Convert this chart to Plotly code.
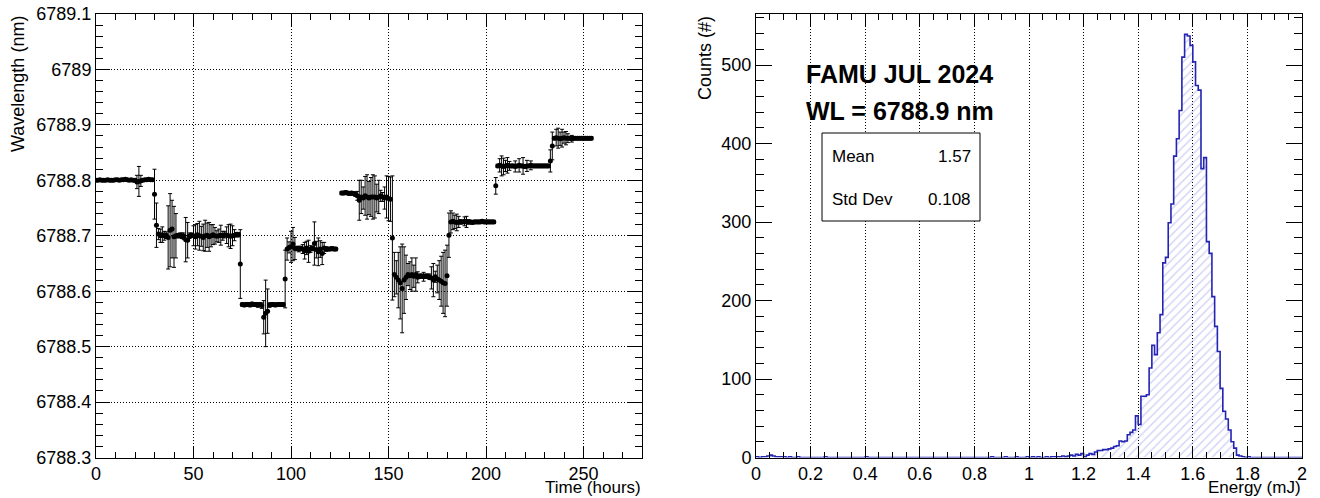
import plotly.graph_objects as go

# ---------------- Left panel: wavelength vs time ----------------
time_h = list(range(0, 124)) + list(range(126, 255))

wavelength_nm = [
    # t 0-29
    6788.800, 6788.800, 6788.801, 6788.800, 6788.800, 6788.800, 6788.801, 6788.800, 6788.800, 6788.800,
    6788.801, 6788.801, 6788.800, 6788.801, 6788.801, 6788.802, 6788.801, 6788.800, 6788.801, 6788.800,
    6788.800, 6788.797, 6788.798, 6788.799, 6788.800, 6788.801, 6788.801, 6788.802, 6788.801, 6788.801,
    # t 30-49
    6788.775, 6788.719, 6788.703, 6788.700, 6788.702, 6788.700, 6788.701, 6788.697, 6788.710, 6788.712,
    6788.698, 6788.700, 6788.700, 6788.701, 6788.700, 6788.699, 6788.693, 6788.692, 6788.700, 6788.701,
    # t 50-73
    6788.700, 6788.698, 6788.702, 6788.700, 6788.699, 6788.697, 6788.700, 6788.701, 6788.698, 6788.700,
    6788.702, 6788.700, 6788.699, 6788.700, 6788.701, 6788.700, 6788.702, 6788.701, 6788.700, 6788.699,
    6788.700, 6788.701, 6788.702, 6788.702,
    # t 74-97
    6788.649, 6788.576, 6788.575, 6788.576, 6788.576, 6788.575, 6788.577, 6788.576, 6788.576, 6788.575,
    6788.576, 6788.574, 6788.553, 6788.560, 6788.564, 6788.575, 6788.576, 6788.576, 6788.575, 6788.576,
    6788.576, 6788.576, 6788.576, 6788.622,
    # t 98-123
    6788.676, 6788.679, 6788.680, 6788.685, 6788.677, 6788.677, 6788.676, 6788.677, 6788.676, 6788.673,
    6788.678, 6788.672, 6788.676, 6788.677, 6788.686, 6788.675, 6788.671, 6788.676, 6788.668, 6788.678,
    6788.676, 6788.676, 6788.676, 6788.677, 6788.676, 6788.676,
    # t 126-152
    6788.777, 6788.777, 6788.778, 6788.777, 6788.776, 6788.777, 6788.776, 6788.775, 6788.772, 6788.764,
    6788.770, 6788.768, 6788.772, 6788.770, 6788.768, 6788.770, 6788.770, 6788.770, 6788.768, 6788.770,
    6788.772, 6788.770, 6788.768, 6788.770, 6788.767, 6788.766, 6788.696,
    # t 153-181
    6788.630, 6788.625, 6788.620, 6788.615, 6788.605, 6788.620, 6788.625, 6788.630, 6788.628, 6788.630,
    6788.627, 6788.630, 6788.625, 6788.627, 6788.627, 6788.626, 6788.627, 6788.627, 6788.626, 6788.624,
    6788.620, 6788.626, 6788.622, 6788.620, 6788.618, 6788.615, 6788.614, 6788.628, 6788.701,
    # t 182-205
    6788.725, 6788.726, 6788.725, 6788.724, 6788.725, 6788.725, 6788.725, 6788.726, 6788.725, 6788.725,
    6788.725, 6788.724, 6788.725, 6788.725, 6788.725, 6788.725, 6788.726, 6788.725, 6788.725, 6788.725,
    6788.725, 6788.725, 6788.725, 6788.790,
    # t 206-234
    6788.826, 6788.827, 6788.826, 6788.825, 6788.826, 6788.827, 6788.826, 6788.826, 6788.826, 6788.825,
    6788.826, 6788.827, 6788.826, 6788.826, 6788.825, 6788.826, 6788.826, 6788.827, 6788.826, 6788.826,
    6788.826, 6788.826, 6788.826, 6788.826, 6788.826, 6788.826, 6788.826, 6788.835, 6788.862,
    # t 235-254
    6788.876, 6788.877, 6788.876, 6788.875, 6788.876, 6788.877, 6788.876, 6788.876, 6788.876, 6788.875,
    6788.876, 6788.876, 6788.876, 6788.876, 6788.876, 6788.876, 6788.876, 6788.876, 6788.876, 6788.876,
]

wavelength_err = [
    # t 0-29
    0.002, 0.002, 0.002, 0.002, 0.002, 0.002, 0.002, 0.002, 0.002, 0.002,
    0.002, 0.002, 0.002, 0.002, 0.002, 0.002, 0.002, 0.002, 0.002, 0.002,
    0.003, 0.012, 0.027, 0.010, 0.002, 0.002, 0.002, 0.002, 0.002, 0.002,
    # t 30-49
    0.045, 0.040, 0.010, 0.012, 0.014, 0.008, 0.006, 0.057, 0.066, 0.052,
    0.055, 0.040, 0.004, 0.004, 0.005, 0.006, 0.040, 0.032, 0.005, 0.004,
    # t 50-73
    0.018, 0.022, 0.020, 0.026, 0.018, 0.024, 0.028, 0.022, 0.026, 0.020,
    0.018, 0.015, 0.010, 0.012, 0.018, 0.008, 0.006, 0.015, 0.020, 0.022,
    0.018, 0.010, 0.004, 0.004,
    # t 74-97
    0.062, 0.003, 0.003, 0.003, 0.003, 0.003, 0.003, 0.003, 0.003, 0.004,
    0.003, 0.005, 0.030, 0.060, 0.040, 0.004, 0.003, 0.003, 0.003, 0.003,
    0.003, 0.003, 0.003, 0.052,
    # t 98-123
    0.020, 0.010, 0.028, 0.030, 0.020, 0.004, 0.005, 0.004, 0.008, 0.015,
    0.012, 0.020, 0.006, 0.004, 0.039, 0.015, 0.025, 0.015, 0.020, 0.010,
    0.004, 0.003, 0.003, 0.003, 0.003, 0.003,
    # t 126-152
    0.003, 0.003, 0.003, 0.003, 0.003, 0.003, 0.003, 0.004, 0.008, 0.036,
    0.030, 0.020, 0.035, 0.040, 0.030, 0.035, 0.040, 0.038, 0.025, 0.030,
    0.010, 0.008, 0.020, 0.038, 0.040, 0.040, 0.112,
    # t 153-181
    0.040, 0.030, 0.050, 0.065, 0.080, 0.060, 0.040, 0.020, 0.025, 0.030,
    0.020, 0.030, 0.010, 0.004, 0.004, 0.008, 0.004, 0.004, 0.005, 0.020,
    0.030, 0.010, 0.025, 0.035, 0.045, 0.055, 0.060, 0.055, 0.040,
    # t 182-205
    0.020, 0.015, 0.012, 0.015, 0.010, 0.004, 0.003, 0.008, 0.010, 0.004,
    0.003, 0.003, 0.003, 0.003, 0.003, 0.003, 0.003, 0.003, 0.003, 0.003,
    0.003, 0.003, 0.003, 0.015,
    # t 206-234
    0.003, 0.012, 0.018, 0.015, 0.010, 0.014, 0.008, 0.003, 0.003, 0.010,
    0.003, 0.012, 0.003, 0.015, 0.003, 0.010, 0.003, 0.008, 0.003, 0.003,
    0.003, 0.003, 0.003, 0.003, 0.003, 0.003, 0.003, 0.020, 0.025,
    # t 235-254
    0.003, 0.015, 0.018, 0.012, 0.016, 0.010, 0.012, 0.008, 0.003, 0.006,
    0.003, 0.003, 0.003, 0.003, 0.003, 0.003, 0.003, 0.003, 0.003, 0.003,
]

# ---------------- Right panel: energy histogram ----------------
bin_width = 0.01
energy_counts = [
    # 0.00-0.99
    1, 0, 1, 1, 2, 3, 2, 1, 1, 1,
    1, 0, 1, 0, 0, 1, 0, 0, 0, 0,
    0, 0, 0, 0, 0, 1, 0, 0, 0, 0,
    0, 0, 0, 0, 0, 0, 0, 0, 0, 0,
    1, 0, 0, 0, 0, 0, 0, 0, 0, 0,
    0, 0, 0, 0, 0, 0, 0, 0, 0, 0,
    0, 0, 0, 0, 0, 0, 0, 0, 0, 0,
    0, 0, 0, 0, 0, 0, 0, 0, 0, 0,
    0, 0, 0, 0, 0, 0, 1, 0, 0, 0,
    0, 1, 0, 0, 0, 1, 0, 0, 0, 1,
    # 1.00-1.99
    0, 1, 0, 1, 0, 0, 1, 0, 1, 1,
    1, 1, 2, 1, 2, 3, 2, 4, 3, 5,
    1, 3, 5, 4, 7, 9, 9, 10, 10, 11,
    12, 14, 15, 21, 20, 21, 29, 32, 35, 53,
    42, 78, 78, 80, 114, 143, 131, 159, 182, 248,
    255, 299, 323, 384, 406, 442, 510, 539, 537, 525,
    504, 474, 468, 368, 382, 275, 260, 205, 167, 135,
    88, 59, 49, 35, 20, 12, 3, 2, 1, 0,
    1, 0, 0, 0, 0, 0, 0, 0, 0, 0,
    0, 0, 0, 0, 0, 0, 0, 0, 0, 0,
]
bin_edges = [round(i * bin_width, 2) for i in range(len(energy_counts) + 1)]
step_y = energy_counts + [energy_counts[-1]]

stats_labels = ["Mean", "Std Dev"]
stats_values = ["1.57", "0.108"]
title_lines = ["FAMU JUL 2024", "WL = 6788.9 nm"]

# ---------------- geometry helpers (pixels -> paper) ----------------
W, H = 1320, 498
def px(x):
    return x / W
def py(y):
    return 1 - y / H

FONT = "Liberation Sans, Arial, Helvetica, sans-serif"

fig = go.Figure()

fig.add_trace(go.Scatter(
    x=time_h, y=wavelength_nm, mode="markers",
    marker=dict(color="black", size=5),
    error_y=dict(type="data", array=wavelength_err, color="black", thickness=1, width=2),
    xaxis="x", yaxis="y", showlegend=False, hoverinfo="skip",
))

fig.add_trace(go.Scatter(
    x=bin_edges, y=step_y, mode="lines", line=dict(color="rgb(35,35,180)", width=1.6, shape="hv"),
    fill="tozeroy", fillcolor="rgba(255,255,255,0)",
    fillpattern=dict(shape="/", fgcolor="rgb(160,160,235)", bgcolor="rgba(255,255,255,0)", size=6, solidity=0.22),
    xaxis="x2", yaxis="y2", showlegend=False, hoverinfo="skip",
))

common_axis = dict(
    showline=True, linecolor="black", linewidth=1, mirror="allticks",
    ticks="inside", tickcolor="black", tickwidth=1,
    tickfont=dict(family=FONT, size=18, color="black"),
    zeroline=False, tickmode="linear", ticklabelstandoff=0, automargin=False,
)
grid = dict(showgrid=True, gridcolor="black", griddash="1px,2px", gridwidth=1)

ydom = [py(457.5), py(14)]

fig.update_layout(
    width=W, height=H,
    margin=dict(l=0, r=0, t=0, b=0, autoexpand=False),
    paper_bgcolor="white", plot_bgcolor="white",
    font=dict(family=FONT, color="black"),
    showlegend=False,
    xaxis=dict(domain=[px(96), px(642)], range=[0, 280], anchor="y",
               tick0=0, dtick=50, ticklen=12,
               minor=dict(dtick=10, tick0=0, ticks="inside", ticklen=6, tickcolor="black", showgrid=False),
               **grid, **common_axis),
    yaxis=dict(domain=ydom, range=[6788.3, 6789.1], anchor="x",
               tick0=6788.3, dtick=0.1, ticklen=14, tickformat=".5~g",
               minor=dict(dtick=0.02, tick0=6788.3, ticks="inside", ticklen=7, tickcolor="black", showgrid=False),
               **grid, **common_axis),
    xaxis2=dict(domain=[px(756), px(1302)], range=[0, 2], anchor="y2",
                tick0=0, dtick=0.2, ticklen=12,
                minor=dict(dtick=0.05, tick0=0, ticks="inside", ticklen=6, tickcolor="black", showgrid=False),
                **grid, **common_axis),
    yaxis2=dict(domain=ydom, range=[0, 565], anchor="x2",
                tick0=0, dtick=100, ticklen=16,
                minor=dict(dtick=20, tick0=0, ticks="inside", ticklen=8, tickcolor="black", showgrid=False),
                showgrid=False, **common_axis),
)

ann = []
ann.append(dict(text="Wavelength (nm)", x=px(18), y=py(14), xref="paper", yref="paper",
                xanchor="center", yanchor="top", textangle=-90, showarrow=False,
                font=dict(family=FONT, size=18, color="black")))
ann.append(dict(text="Counts (#)", x=px(705), y=py(14), xref="paper", yref="paper",
                xanchor="center", yanchor="top", textangle=-90, showarrow=False,
                font=dict(family=FONT, size=18, color="black")))
ann.append(dict(text="Time (hours)", x=px(643), y=py(487), xref="paper", yref="paper",
                xanchor="right", yanchor="middle", showarrow=False,
                font=dict(family=FONT, size=17, color="black")))
ann.append(dict(text="Energy (mJ)", x=px(1303), y=py(487), xref="paper", yref="paper",
                xanchor="right", yanchor="middle", showarrow=False,
                font=dict(family=FONT, size=17, color="black")))
for i, line in enumerate(title_lines):
    ann.append(dict(text="<b>" + line + "</b>", x=px(804), y=py(74 + 37 * i), xref="paper", yref="paper",
                    xanchor="left", yanchor="middle", showarrow=False,
                    font=dict(family=FONT, size=25, color="black")))
for i, (lab, val) in enumerate(zip(stats_labels, stats_values)):
    yy = py(157 + 42 * i)
    ann.append(dict(text=lab, x=px(830), y=yy, xref="paper", yref="paper",
                    xanchor="left", yanchor="middle", showarrow=False,
                    font=dict(family=FONT, size=17, color="black")))
    ann.append(dict(text=val, x=px(973), y=yy, xref="paper", yref="paper",
                    xanchor="right", yanchor="middle", showarrow=False,
                    font=dict(family=FONT, size=17, color="black")))
fig.update_layout(annotations=ann)

fig.add_shape(type="rect", xref="paper", yref="paper",
              x0=px(822), x1=px(980), y0=py(221), y1=py(133),
              line=dict(color="black", width=1), fillcolor="white", layer="above")

fig.write_html("out.html")
